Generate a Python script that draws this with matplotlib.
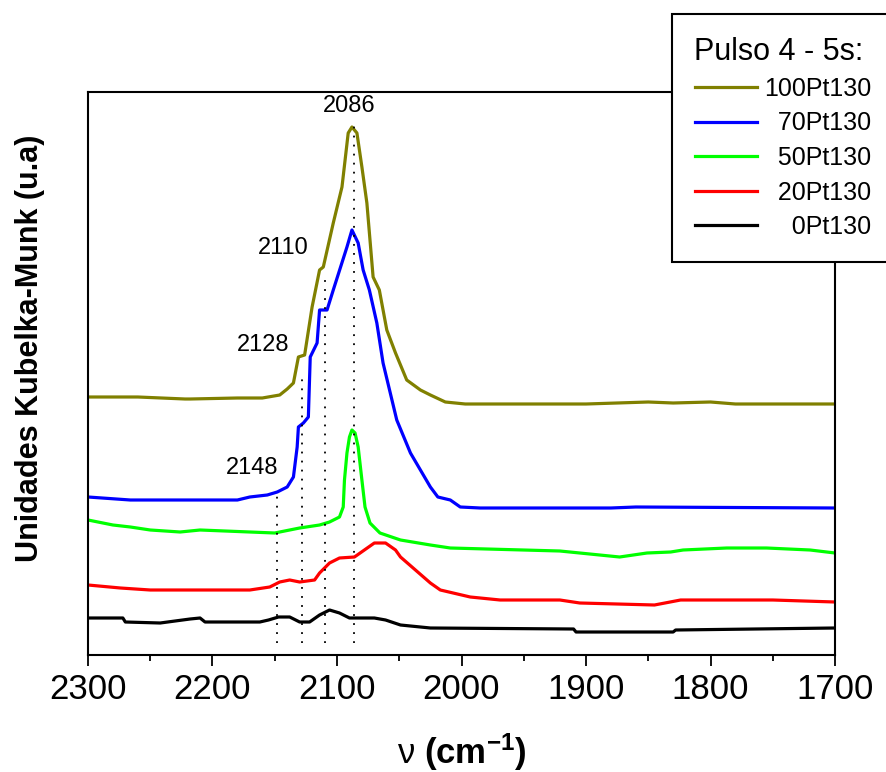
import numpy as np
import matplotlib
matplotlib.use('Agg')
import matplotlib.pyplot as plt
from matplotlib.ticker import MultipleLocator

plt.rcParams['font.family'] = ['Liberation Sans', 'DejaVu Sans']
plt.rcParams['mathtext.fontset'] = 'custom'
plt.rcParams['mathtext.rm'] = 'Liberation Sans'
plt.rcParams['mathtext.bf'] = 'Liberation Sans:bold'

# wavenumber (cm-1) / Kubelka-Munk units
olive_x = [2300, 2260, 2222, 2218, 2180, 2160, 2146, 2140, 2135, 2131, 2126, 2120, 2114, 2111,
           2103, 2096, 2091, 2088, 2084, 2080, 2076, 2071, 2066, 2060, 2053, 2044, 2033, 2025,
           2013, 1997, 1900, 1850, 1830, 1800, 1780, 1700]
olive_y = [2.58, 2.58, 2.56, 2.56, 2.57, 2.57, 2.60, 2.66, 2.72, 2.98, 3.00, 3.48, 3.85, 3.88,
           4.32, 4.68, 5.22, 5.28, 5.22, 4.88, 4.52, 3.78, 3.65, 3.25, 3.02, 2.75, 2.65, 2.60,
           2.53, 2.51, 2.51, 2.53, 2.52, 2.53, 2.51, 2.51]

blue_x = [2300, 2266, 2230, 2180, 2170, 2156, 2148, 2140, 2135, 2132, 2131, 2127, 2123, 2121.5,
          2116, 2114, 2108, 2103, 2092, 2088, 2083, 2079, 2074, 2068, 2063, 2052, 2041, 2025,
          2019, 2009, 2001, 1985, 1880, 1860, 1700]
blue_y = [1.58, 1.55, 1.55, 1.55, 1.58, 1.60, 1.63, 1.68, 1.78, 2.08, 2.28, 2.32, 2.38, 2.98,
          3.12, 3.45, 3.45, 3.65, 4.08, 4.25, 4.12, 3.85, 3.65, 3.32, 2.92, 2.35, 2.02, 1.68,
          1.58, 1.55, 1.48, 1.47, 1.47, 1.48, 1.47]

green_x = [2300, 2280, 2266, 2250, 2226, 2210, 2170, 2150, 2130, 2114, 2106, 2098, 2095, 2094,
           2092, 2090, 2088, 2085.5, 2083, 2080, 2077.5, 2073.5, 2065.5, 2049, 2025, 2009, 1921,
           1905, 1873, 1851, 1832, 1822, 1787, 1755, 1720, 1700]
green_y = [1.35, 1.30, 1.28, 1.25, 1.23, 1.25, 1.23, 1.22, 1.27, 1.30, 1.33, 1.38, 1.48, 1.75,
           2.02, 2.18, 2.25, 2.22, 2.08, 1.75, 1.48, 1.32, 1.22, 1.15, 1.10, 1.07, 1.04,
           1.02, 0.98, 1.02, 1.03, 1.05, 1.07, 1.07, 1.05, 1.02]

red_x = [2300, 2274, 2250, 2170, 2154, 2146, 2138, 2130, 2118, 2114, 2106, 2098, 2086, 2078,
         2070, 2061, 2053, 2049, 2037, 2025, 2017, 1993, 1969, 1921, 1905, 1845, 1824, 1750, 1700]
red_y = [0.70, 0.67, 0.65, 0.65, 0.68, 0.73, 0.75, 0.73, 0.75, 0.82, 0.92, 0.97, 0.98, 1.05,
         1.12, 1.12, 1.05, 0.98, 0.85, 0.72, 0.65, 0.58, 0.55, 0.55, 0.52, 0.50, 0.55, 0.55, 0.53]

black_x = [2300, 2272, 2270, 2242, 2218, 2210, 2206, 2162, 2155, 2147, 2138, 2130, 2122, 2114,
           2106, 2098, 2090, 2070, 2061, 2049, 2025, 1910, 1908, 1830, 1828, 1700]
black_y = [0.37, 0.37, 0.33, 0.32, 0.36, 0.37, 0.33, 0.33, 0.35, 0.38, 0.38, 0.33, 0.33, 0.40,
           0.45, 0.42, 0.37, 0.37, 0.35, 0.30, 0.27, 0.26, 0.23, 0.23, 0.25, 0.27]

labels = ['100Pt130', '70Pt130', '50Pt130', '20Pt130', '0Pt130']
colors = ['#808000', '#0000ff', '#00ff00', '#ff0000', '#000000']

# marked bands
peaks = [2148, 2128, 2110, 2086]
peak_top = [1.61, 2.82, 3.78, 5.35]
peak_lbl_x = [2168, 2159, 2143, 2090]
peak_lbl_y = [1.87, 3.10, 4.07, 5.49]


fig = plt.figure(figsize=(8.86, 7.72), dpi=100)
ax = fig.add_axes([88/886, 1 - 655/772, 747/886, 563/772])

series = [(olive_x, olive_y), (blue_x, blue_y), (green_x, green_y),
          (red_x, red_y), (black_x, black_y)]
handles = []
for (x, y), c in zip(series, colors):
    h, = ax.plot(x, y, color=c, lw=2.3)
    handles.append(h)

for p, t in zip(peaks, peak_top):
    ax.plot([p, p], [0.12, t], color='black', lw=1.3, ls=(0, (1, 4)))
for p, lx, ly in zip(peaks, peak_lbl_x, peak_lbl_y):
    ax.text(lx, ly, str(p), fontsize=17, ha='center', va='center')

ax.set_xlim(2300, 1700)
ax.set_ylim(0, 5.63)
ax.set_yticks([])
ax.xaxis.set_major_locator(MultipleLocator(100))
ax.xaxis.set_minor_locator(MultipleLocator(50))
ax.tick_params(axis='x', which='major', direction='out', length=8, width=1.3,
               labelsize=25, pad=5)
ax.tick_params(axis='x', which='minor', direction='out', length=4.5, width=1.3)
for lab in ax.get_xticklabels():
    lab.set_family(['Liberation Sans Narrow', 'Liberation Sans'])
for s in ax.spines.values():
    s.set_linewidth(1.5)

ax.set_xlabel(r'$\mathrm{\nu}$ $\mathbf{(cm^{-1})}$', fontsize=25, labelpad=18)
ax.set_ylabel('Unidades Kubelka-Munk (u.a)', fontsize=22, fontweight='bold')
ax.yaxis.set_label_coords(-0.058, 0.545)

pad = ['', '\u2007', '\u2007', '\u2007', '\u2007\u2007']
leg = fig.legend(handles, [p + l for p, l in zip(pad, labels)],
                 loc='upper left', bbox_to_anchor=(672/886, 1 - 14/772),
                 title='Pulso 4 - 5s:', title_fontsize=22, fontsize=18,
                 frameon=True, fancybox=False, framealpha=1, edgecolor='black',
                 handlelength=2.5, handletextpad=0.3, labelspacing=0.42,
                 borderpad=0.9, borderaxespad=0)
leg._legend_box.align = 'left'
leg.get_frame().set_linewidth(1.5)

fig.savefig('out.png', dpi=100)
